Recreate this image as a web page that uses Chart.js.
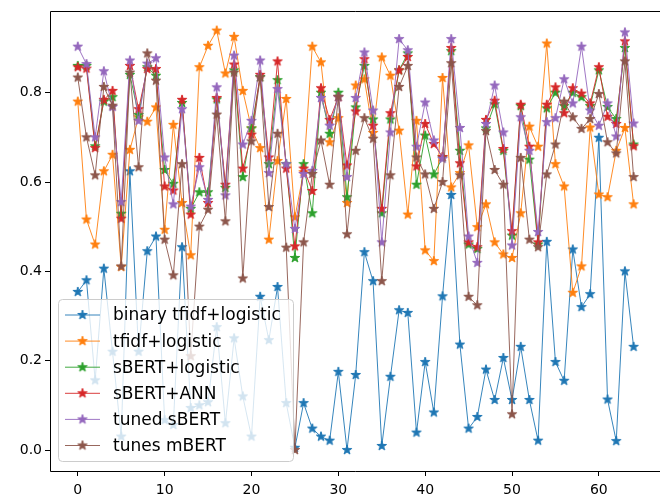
<!DOCTYPE html>
<html><head><meta charset="utf-8">
<script src="https://cdn.jsdelivr.net/npm/chart.js@4/dist/chart.umd.min.js"></script>
<style>html,body{margin:0;padding:0;background:#fff;overflow:hidden}canvas{display:block}</style>
</head><body>
<canvas id="c" width="660" height="498"></canvas>
<script>
const seriesNames = ["binary tfidf+logistic","tfidf+logistic","sBERT+logistic","sBERT+ANN","tuned sBERT","tunes mBERT"];
const binaryTfidf = [0.354,0.38,0.156,0.406,0.22,0.03,0.624,0.22,0.445,0.478,0.067,0.056,0.454,0.094,0.10,0.107,0.275,0.06,0.25,0.12,0.03,0.343,0.246,0.365,0.105,0.005,0.105,0.048,0.03,0.021,0.175,0.0,0.168,0.443,0.378,0.009,0.164,0.313,0.307,0.039,0.197,0.084,0.344,0.571,0.236,0.048,0.074,0.18,0.112,0.206,0.112,0.231,0.112,0.021,0.466,0.197,0.155,0.449,0.32,0.349,0.699,0.113,0.02,0.40,0.231];
const tfidfLogistic = [0.78,0.516,0.46,0.624,0.661,0.41,0.672,0.745,0.735,0.767,0.493,0.728,0.553,0.436,0.857,0.905,0.939,0.843,0.925,0.804,0.72,0.676,0.471,0.647,0.786,0.521,0.622,0.903,0.868,0.689,0.743,0.553,0.816,0.83,0.71,0.879,0.838,0.715,0.527,0.737,0.447,0.423,0.833,0.588,0.62,0.682,0.499,0.55,0.465,0.438,0.43,0.53,0.724,0.679,0.91,0.64,0.59,0.352,0.411,0.722,0.572,0.566,0.67,0.721,0.55];
const sbertLogistic = [0.86,0.86,0.68,0.78,0.79,0.529,0.84,0.75,0.857,0.838,0.627,0.596,0.777,0.54,0.577,0.577,0.785,0.587,0.85,0.611,0.72,0.835,0.64,0.828,0.64,0.43,0.64,0.53,0.80,0.708,0.80,0.566,0.767,0.86,0.74,0.53,0.74,0.85,0.888,0.594,0.704,0.617,0.655,0.893,0.67,0.46,0.45,0.72,0.774,0.67,0.48,0.77,0.65,0.46,0.765,0.80,0.77,0.80,0.79,0.77,0.85,0.768,0.741,0.90,0.684];
const sbertAnn = [0.857,0.854,0.676,0.784,0.804,0.518,0.86,0.763,0.853,0.853,0.59,0.581,0.784,0.527,0.654,0.553,0.788,0.594,0.863,0.63,0.706,0.84,0.655,0.87,0.63,0.456,0.63,0.58,0.81,0.739,0.79,0.637,0.758,0.875,0.726,0.54,0.754,0.85,0.88,0.635,0.73,0.685,0.656,0.90,0.642,0.465,0.454,0.739,0.782,0.674,0.49,0.773,0.679,0.465,0.773,0.812,0.754,0.81,0.798,0.776,0.857,0.746,0.73,0.915,0.68];
const tunedSbert = [0.903,0.864,0.70,0.848,0.768,0.555,0.872,0.737,0.865,0.877,0.655,0.55,0.763,0.545,0.633,0.56,0.812,0.57,0.883,0.684,0.737,0.872,0.62,0.808,0.64,0.495,0.618,0.625,0.788,0.726,0.79,0.611,0.788,0.89,0.76,0.465,0.711,0.92,0.895,0.679,0.778,0.693,0.652,0.92,0.721,0.478,0.419,0.73,0.816,0.711,0.458,0.745,0.67,0.488,0.734,0.743,0.83,0.776,0.903,0.76,0.726,0.776,0.702,0.935,0.731];
const tunesMbert = [0.834,0.70,0.615,0.813,0.771,0.411,0.845,0.633,0.888,0.827,0.471,0.391,0.64,0.21,0.50,0.538,0.751,0.512,0.845,0.384,0.691,0.834,0.544,0.708,0.453,0.0,0.465,0.618,0.693,0.594,0.791,0.483,0.67,0.743,0.697,0.378,0.615,0.813,0.86,0.655,0.617,0.54,0.60,0.866,0.615,0.343,0.324,0.714,0.627,0.594,0.08,0.654,0.471,0.454,0.617,0.684,0.78,0.745,0.719,0.741,0.797,0.689,0.664,0.87,0.611];
const xTicks = [0,10,20,30,40,50,60];
const yTicks = [0.0,0.2,0.4,0.6,0.8];
const colors = ["#1f77b4","#ff7f0e","#2ca02c","#d62728","#9467bd","#8c564b"];
const allSeries = [binaryTfidf,tfidfLogistic,sbertLogistic,sbertAnn,tunedSbert,tunesMbert];

function starImage(color){
  const r = 5.0, size = 14;
  const c = document.createElement('canvas');
  c.width = size; c.height = size;
  const g = c.getContext('2d');
  const cx = size/2, cy = size/2, ri = r*0.382;
  g.beginPath();
  for (let k=0;k<10;k++){
    const rad = k%2===0 ? r : ri;
    const a = -Math.PI/2 + k*Math.PI/5;
    const px = cx + rad*Math.cos(a), py = cy + rad*Math.sin(a);
    if (k===0) g.moveTo(px,py); else g.lineTo(px,py);
  }
  g.closePath();
  g.fillStyle = color; g.fill();
  g.strokeStyle = color; g.lineWidth = 1; g.lineJoin='miter'; g.stroke();
  return c;
}
const stars = colors.map(starImage);

const datasets = allSeries.map((vals,k)=>({
  label: seriesNames[k],
  data: vals.map((v,i)=>({x:i,y:v})),
  borderColor: colors[k],
  backgroundColor: colors[k],
  borderWidth: 0.9,
  pointStyle: stars[k],
  pointRadius: 5,
  pointHoverRadius: 5,
  tension: 0,
  order: allSeries.length-1-k
}));

const FONT = '"DejaVu Sans", sans-serif';

const mplPlugin = {
  id: 'mpl',
  afterDraw(chart){
    const ctx = chart.ctx, a = chart.chartArea;
    ctx.save();
    ctx.strokeStyle = '#000'; ctx.lineWidth = 1;
    ctx.beginPath();
    ctx.moveTo(Math.round(a.left)+0.5, Math.round(a.top)+0.5);
    ctx.lineTo(660, Math.round(a.top)+0.5);
    ctx.moveTo(Math.round(a.left)+0.5, Math.round(a.top)+0.5);
    ctx.lineTo(Math.round(a.left)+0.5, Math.round(a.bottom)+0.5);
    ctx.lineTo(660, Math.round(a.bottom)+0.5);
    ctx.stroke();
    const x0 = 58.5, y0 = 299.5, w = 235, h = 162, rr = 4;
    ctx.beginPath();
    ctx.moveTo(x0+rr,y0); ctx.lineTo(x0+w-rr,y0); ctx.quadraticCurveTo(x0+w,y0,x0+w,y0+rr);
    ctx.lineTo(x0+w,y0+h-rr); ctx.quadraticCurveTo(x0+w,y0+h,x0+w-rr,y0+h);
    ctx.lineTo(x0+rr,y0+h); ctx.quadraticCurveTo(x0,y0+h,x0,y0+h-rr);
    ctx.lineTo(x0,y0+rr); ctx.quadraticCurveTo(x0,y0,x0+rr,y0);
    ctx.closePath();
    ctx.fillStyle = 'rgba(255,255,255,0.8)'; ctx.fill();
    ctx.strokeStyle = '#cccccc'; ctx.lineWidth = 1; ctx.stroke();
    chart.data.datasets.forEach((ds,k)=>{
      const y = 315 + k*26.1;
      ctx.strokeStyle = colors[k]; ctx.lineWidth = 0.9;
      ctx.beginPath(); ctx.moveTo(65,y); ctx.lineTo(100,y); ctx.stroke();
      ctx.drawImage(stars[k], 82.5-7, y-7);
      ctx.fillStyle = '#000'; ctx.font = '17px ' + FONT;
      ctx.textBaseline = 'middle'; ctx.textAlign = 'left';
      ctx.fillText(ds.label, 113, y+1);
    });
    ctx.restore();
  }
};

new Chart(document.getElementById('c'), {
  type: 'line',
  data: { datasets },
  options: {
    responsive: false,
    animation: false,
    events: [],
    layout: { padding: { top: 10.5, right: 0, left: 0, bottom: 0 } },
    plugins: { legend: { display: false }, tooltip: { enabled: false } },
    scales: {
      x: {
        type: 'linear', min: -3.2, max: 66.36,
        afterBuildTicks: s => { s.ticks = xTicks.map(v=>({value:v})); },
        afterFit: s => { s.height = 27; },
        ticks: { color: '#000', font: { family: FONT, size: 14 }, padding: 6, maxRotation: 0, callback: v => String(v) },
        grid: { display: true, drawOnChartArea: false, drawTicks: true, tickLength: 5, color: '#000', lineWidth: 1 },
        border: { display: false }
      },
      y: {
        type: 'linear', min: -0.047, max: 0.982,
        afterBuildTicks: s => { s.ticks = yTicks.map(v=>({value:v})); },
        afterFit: s => { s.width = 50; },
        ticks: { color: '#000', font: { family: FONT, size: 14 }, padding: 3, callback: v => Number(v).toFixed(1) },
        grid: { display: true, drawOnChartArea: false, drawTicks: true, tickLength: 5, color: '#000', lineWidth: 1 },
        border: { display: false }
      }
    }
  },
  plugins: [mplPlugin]
});
</script>
</body></html>
